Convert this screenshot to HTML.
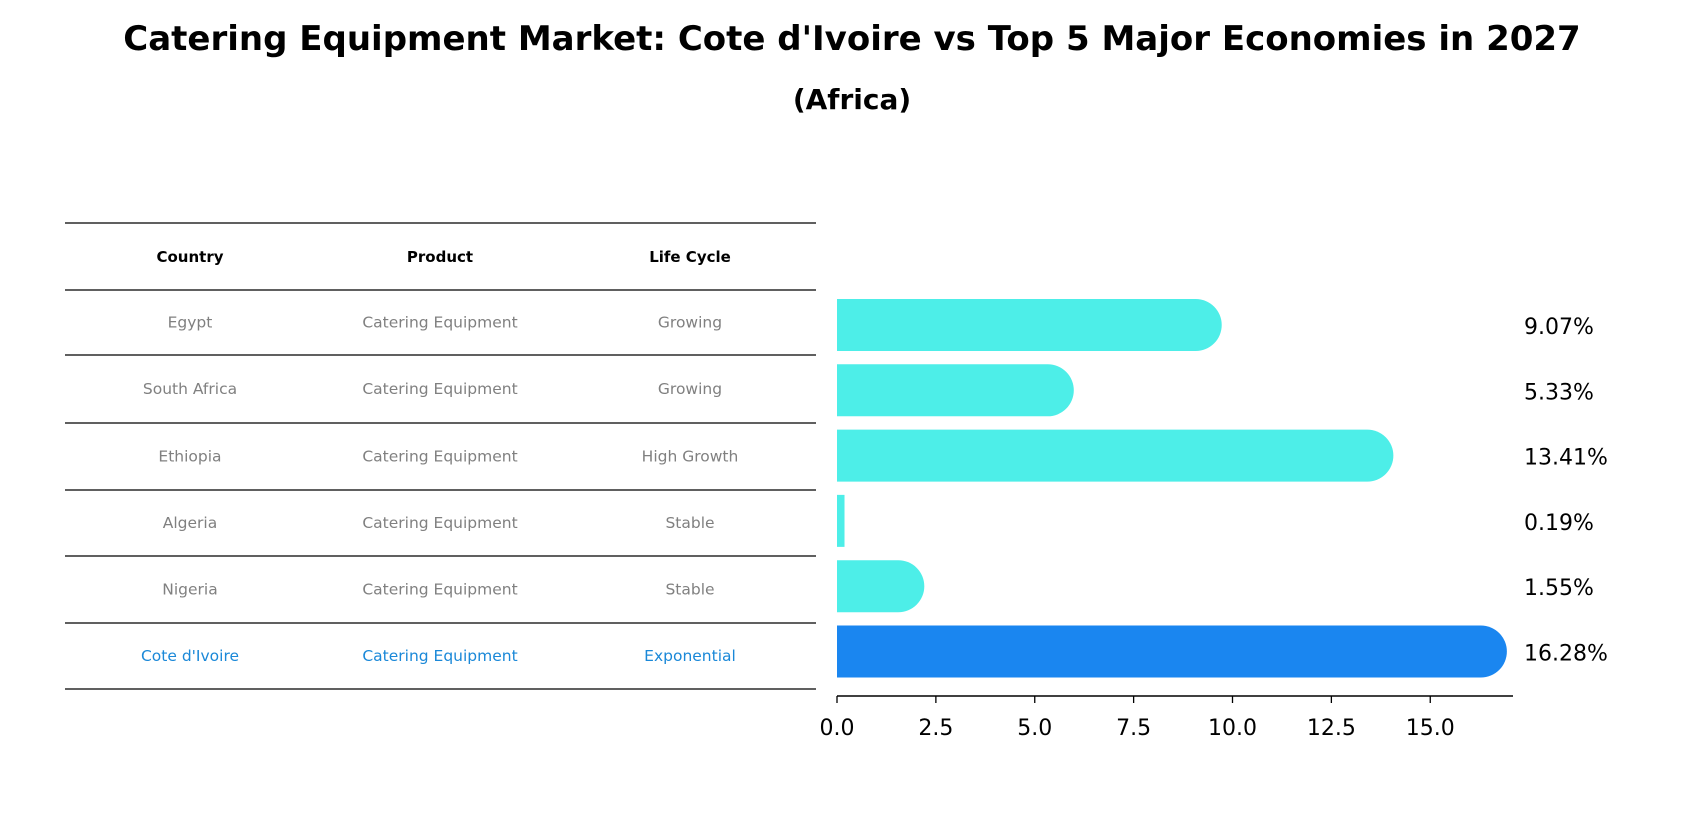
<!DOCTYPE html>
<html><head><meta charset="utf-8"><style>
html,body{margin:0;padding:0;background:#fff;}
svg{display:block;font-family:"DejaVu Sans","Liberation Sans",sans-serif;}
</style></head><body>
<svg id="chart" width="1704" height="823" viewBox="0 0 1704 823" xmlns="http://www.w3.org/2000/svg">
<rect width="1704" height="823" fill="#fff"/>
<text x="852" y="50" text-anchor="middle" font-size="34" font-weight="bold">Catering Equipment Market: Cote d'Ivoire vs Top 5 Major Economies in 2027</text>
<text x="852" y="109" text-anchor="middle" font-size="28" font-weight="bold">(Africa)</text>
<g id="table"></g>
<g id="bars"></g>
</svg>
<script>
const countries = ["Egypt","South Africa","Ethiopia","Algeria","Nigeria","Cote d'Ivoire"];
const products = ["Catering Equipment","Catering Equipment","Catering Equipment","Catering Equipment","Catering Equipment","Catering Equipment"];
const lifeCycles = ["Growing","Growing","High Growth","Stable","Stable","Exponential"];
const values = [9.07,5.33,13.41,0.19,1.55,16.28];
const tickValues = [0,2.5,5,7.5,10,12.5,15];
const tickLabels = ["0.0","2.5","5.0","7.5","10.0","12.5","15.0"];

const NS="http://www.w3.org/2000/svg";
function mk(tag, attrs, parent, txt){
  const e=document.createElementNS(NS,tag);
  for(const k in attrs) e.setAttribute(k,attrs[k]);
  if(txt!==undefined) e.textContent=txt;
  parent.appendChild(e); return e;
}
const x0=837, pxPerUnit=39.55;
const xScale=v=>x0+v*pxPerUnit;
const rowY=i=>325+i*65.3;

// table
const tbl=document.getElementById('table');
const lineYs=[223,290,355,423,490,556,623,689];
lineYs.forEach((y,i)=>{
  const l=mk('line',{x1:65,x2:816,y1:y,y2:y,stroke:'#000','stroke-width':1.2},tbl);
  
  
});
const colX=[190,440,690];
["Country","Product","Life Cycle"].forEach((h,j)=>{
  const t=mk('text',{x:colX[j],y:262,'text-anchor':'middle','font-size':15,'font-weight':'bold'},tbl,h);
  
  
});
for(let i=0;i<countries.length;i++){
  const y=(lineYs[i+1]+lineYs[i+2])/2+5;
  const col=i===countries.length-1?'#1a88d8':'#808080';
  [countries[i],products[i],lifeCycles[i]].forEach((s,j)=>{
    const t=mk('text',{x:colX[j],y:y,'text-anchor':'middle','font-size':15.5,fill:col},tbl,s);
    
    
  });
}

// bars
const g=document.getElementById('bars');
const h=52;
values.forEach((v,i)=>{
  const cy=rowY(i), xe=xScale(v);
  const col=i===values.length-1?'#1a86f0':'#4deee8';
  let d;
  if(v<1){ d=`M${x0},${cy-h/2}H${xe}V${cy+h/2}H${x0}Z`; }
  else { d=`M${x0},${cy-h/2}H${xe}A${h/2},${h/2} 0 0 1 ${xe},${cy+h/2}H${x0}Z`; }
  const p=mk('path',{d:d,fill:col},g);
  
  
  const t=mk('text',{x:1524,y:cy+9,'font-size':22},g,v.toFixed(2)+'%');
  
  
});
const ax=mk('line',{x1:x0,x2:1513,y1:696,y2:696,stroke:'#000','stroke-width':1.5},g);


tickValues.forEach((v,i)=>{
  const x=xScale(v);
  const tk=mk('line',{x1:x,x2:x,y1:696,y2:703,stroke:'#000','stroke-width':1.3},g);
  
  
  const t=mk('text',{x:x,y:735,'text-anchor':'middle','font-size':22},g,tickLabels[i]);
  
  
});
</script>
</body></html>
